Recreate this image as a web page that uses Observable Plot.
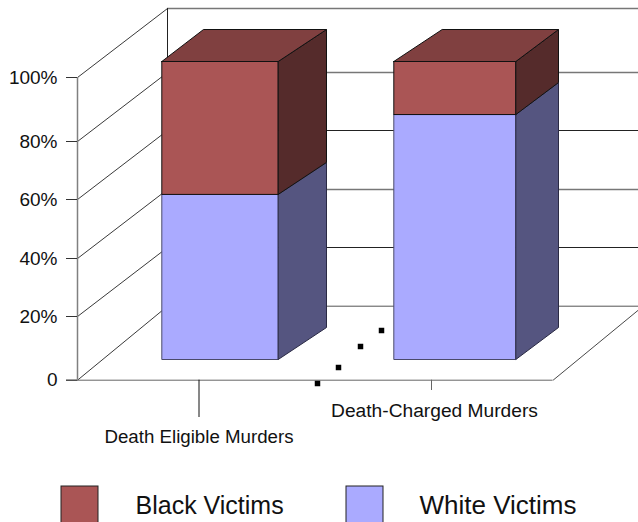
<!DOCTYPE html>
<html>
<head>
<meta charset="utf-8">
<script src="https://cdn.jsdelivr.net/npm/d3@7"></script>
<script src="https://cdn.jsdelivr.net/npm/@observablehq/plot@0.6"></script>
<style>
  html, body { margin: 0; padding: 0; background: #fff; overflow: hidden; }
  svg { display: block; }
</style>
</head>
<body>
<div id="chart"></div>
<script>
// Share of murders by race of victim, percent of each category
const categories = ["Death Eligible Murders", "Death-Charged Murders"];
const seriesNames = ["Black Victims", "White Victims"];
const whiteVictims = [55.4, 82.2];
const blackVictims = [44.6, 17.8];
const axisTicks = [0, 20, 40, 60, 80, 100];
const axisRows = [379.7, 316, 258, 199, 141, 77];

// Oblique layout of the pseudo-3D box
const W = 638, H = 522;
const wallDepth = {dx: 90, dy: 69};
const floorDrop = 5;
const barBase = 359, barSpan = 298;
const bars = [
  {left: 161.3, right: 277.7, backLeft: 203, backRight: 326, rise: 32},
  {left: 393.3, right: 515.3, backLeft: 441.7, backRight: 558, rise: 32}
];
const colors = {
  black: {front: "#aa5555", side: "#552b2b", top: "#804040"},
  white: {front: "#aaaaff", side: "#555580"}
};

// Percent axis is slightly uneven, so values pass through this before the y scale
const yScale = d3.scaleLinear().domain(axisTicks).range(axisRows);
// Value that lands on a given row of the drawing
const atRow = (row) => yScale.invert(row);
// Row of a share measured on the front plane of a bar
const shareRow = (share) => barBase - (share / 100) * barSpan;

const axisX = 77;
const wallX = axisX + wallDepth.dx;
const wallRow = (t) => yScale(t) - wallDepth.dy + (t === 0 ? -floorDrop : 0);
const floorRight = 552.6;
const darkGridlines = [20, 60];

const poly = (pts, fill, stroke = "#111", strokeWidth = 1) =>
  Plot.line(pts.map(([x, row]) => ({x, y: atRow(row)})).concat([{x: pts[0][0], y: atRow(pts[0][1])}]),
    {x: "x", y: "y", fill, stroke, strokeWidth, curve: "linear"});

// One stacked box: lower segment, upper segment and the lid
function barMarks(b, i) {
  const split = shareRow(whiteVictims[i]);
  const top = shareRow(whiteVictims[i] + blackVictims[i]);
  return [
    poly([[b.left, split], [b.right, split], [b.right, barBase], [b.left, barBase]], colors.white.front, "#4a4a6a"),
    poly([[b.right, split], [b.backRight, split - b.rise], [b.backRight, barBase - b.rise], [b.right, barBase]], colors.white.side, "#2a2a44"),
    poly([[b.left, top], [b.right, top], [b.right, split], [b.left, split]], colors.black.front),
    poly([[b.right, top], [b.backRight, top - b.rise], [b.backRight, split - b.rise], [b.right, split]], colors.black.side),
    poly([[b.left, top], [b.backLeft, top - b.rise], [b.backRight, top - b.rise], [b.right, top]], colors.black.top)
  ];
}

const floorSpecks = [[317, 383], [338, 367], [360, 346], [381, 330]];
const categoryLabels = [
  {name: categories[0], x: 198.5, tickX: 198.5, tickEnd: 417, row: 437, size: 18.7},
  {name: categories[1], x: 434, tickX: 431, tickEnd: 390, row: 410, size: 19.2}
];
const legendItems = [
  {name: seriesNames[0], x1: 61, x2: 98, textX: 135, size: 25, fill: colors.black.front},
  {name: seriesNames[1], x1: 346, x2: 383, textX: 419, size: 26, fill: colors.white.front}
];

const font = "Liberation Sans, Arial, sans-serif";

const chart = Plot.plot({
  width: W, height: H,
  marginLeft: axisX, marginTop: 0, marginRight: 0, marginBottom: 0,
  style: {fontFamily: font, background: "#fff", overflow: "hidden"},
  x: {domain: [0, W], range: [0, W], axis: null},
  y: {transform: (v) => yScale(v), domain: [0, H], range: [0, H], axis: null},
  marks: [
    // Back wall and its gridlines
    ...axisTicks.map((t) => Plot.ruleY([atRow(wallRow(t))], {
      x1: wallX, x2: W,
      stroke: darkGridlines.includes(t) ? "#222" : t === 0 ? "#555" : "#777",
      strokeWidth: darkGridlines.includes(t) || t === 0 ? 1 : 1.5
    })),
    Plot.ruleX([wallX], {y1: atRow(wallRow(100)), y2: atRow(wallRow(0)), stroke: "#222"}),
    // Side wall diagonals, floor edges
    Plot.link(axisTicks, {
      x1: axisX, x2: wallX,
      y1: (t) => t, y2: (t) => atRow(wallRow(t)),
      stroke: "#222", strokeWidth: 0.9
    }),
    Plot.link([0], {
      x1: floorRight, x2: floorRight + wallDepth.dx,
      y1: 0, y2: () => atRow(wallRow(0)),
      stroke: "#333", strokeWidth: 0.9
    }),
    Plot.ruleY([0], {x1: 66, x2: floorRight, stroke: "#666", strokeWidth: 1}),
    Plot.ruleX([axisX], {y1: 0, y2: 100, stroke: "#808080", strokeWidth: 1.5}),
    Plot.axisY(axisTicks, {
      anchor: "left", label: null, tickSize: 11, tickPadding: 9, fontSize: 19,
      stroke: "#333", fill: "#111",
      tickFormat: (t) => t === 0 ? "0" : `${t}%`
    }),

    // Stacked boxes
    ...bars.flatMap(barMarks),

    Plot.dot(floorSpecks, {
      x: (d) => d[0], y: (d) => atRow(d[1]),
      symbol: "square", r: 3.1, fill: "#000", stroke: "none"
    }),

    // Category ticks and labels
    ...categoryLabels.map((d, i) => Plot.ruleX([d.tickX], {y1: 0, y2: atRow(d.tickEnd), stroke: i ? "#666" : "#111"})),
    ...categoryLabels.map((d) => Plot.text([d], {
      x: "x", y: (r) => atRow(r.row), text: "name",
      fontSize: d.size, fill: "#111", textAnchor: "middle"
    })),

    // Legend
    ...legendItems.map((d) => Plot.rect([d], {
      x1: "x1", x2: "x2", y1: () => atRow(486), y2: () => atRow(530),
      fill: d.fill, stroke: "#222", strokeWidth: 1
    })),
    ...legendItems.map((d) => Plot.text([d], {
      x: "textX", y: () => atRow(505), text: "name",
      fontSize: d.size, fill: "#111", textAnchor: "start"
    }))
  ]
});

document.getElementById("chart").appendChild(chart);
</script>
</body>
</html>
